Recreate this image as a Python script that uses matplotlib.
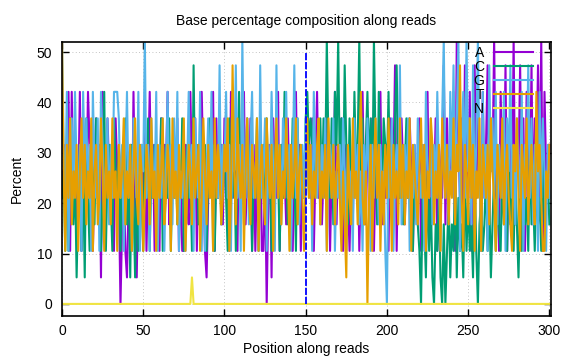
import numpy as np
import matplotlib
matplotlib.use('Agg')
import matplotlib.pyplot as plt

plt.rcParams['font.family'] = ['Liberation Sans', 'DejaVu Sans']

# percentages come in steps of 100/19, stored here as step counts
STEP = 100 / 19

base_A = [5,4,6,4,8,2,8,4,5,3, 4,8,2,7,5,4,8,6,4,2, 5,7,4,6,1,8,5,4,7,5,
          4,6,2,7,5,4,0,3,5,2, 1,4,6,2,8,4,1,5,3,6, 4,7,2,5,8,4,6,2,4,5,
          2,7,4,6,5,8,3,4,6,5, 4,7,2,5,2,2,6,4,3,8, 5,4,7,2,6,4,8,5,2,1,
          4,6,5,8,2,7,4,5,6,3, 7,4,5,2,8,6,4,5,2,7, 4,6,8,3,5,4,7,2,6,2,
          5,4,7,2,2,5,0,4,6,1, 7,5,4,8,2,6,4,5,3,7, 4,6,2,5,8,4,6,2,5,4,
          6,6,6,4,7,2,5,8,4,6, 3,5,4,7,6,2,5,4,8,3, 6,4,7,2,5,6,4,2,5,3,
          7,4,6,2,5,8,4,3,6,5, 4,7,2,5,6,4,8,3,5,4, 6,2,7,4,5,9,2,6,4,7,
          5,3,6,4,7,5,2,6,4,5, 7,2,5,6,4,8,3,6,5,4, 7,2,6,5,4,9,3,7,4,6,
          5,8,2,10,6,4,7,3,9,5, 4,8,2,6,9,4,7,5,2,8, 4,6,9,3,7,5,10,4,6,2,
          8,5,4,9,2,6,7,4,10,3, 6,5,9,4,7,2,8,5,4,9, 3,7,5,9,4,10,2,8,5,4,
          6]
base_C = [4,5,2,6,2,7,4,3,5,1, 4,6,2,5,1,7,4,2,6,5, 3,7,4,5,2,4,8,2,5,6,
          4,2,7,5,4,6,2,5,4,7, 3,5,1,6,4,1,5,2,6,4, 2,6,4,7,2,5,4,6,3,5,
          4,7,2,5,6,4,7,2,5,4, 6,3,5,4,7,2,5,6,4,5, 2,9,4,6,3,7,5,4,6,2,
          5,7,4,6,2,5,4,7,3,5, 6,4,2,7,5,4,6,2,5,8, 4,6,3,5,7,4,6,2,5,4,
          7,2,5,4,6,3,7,4,5,2, 6,4,7,5,2,6,4,8,5,3, 6,4,7,5,2,7,4,6,5,4,
          7,8,6,7,6,7,4,6,5,7, 4,7,5,10,6,4,7,3,8,6, 10,5,7,4,9,6,3,7,5,4,
          8,5,6,10,4,7,3,6,8,5, 7,4,10,6,3,8,5,4,7,6, 5,8,4,6,3,7,9,5,4,6,
          3,5,7,4,6,3,2,5,4,3, 2,0,4,3,1,5,2,4,1,0, 3,2,4,1,0,3,0,2,4,1,
          3,2,5,1,4,2,3,1,5,2, 4,2,3,1,5,2,0,3,4,2, 3,5,2,4,1,3,5,2,4,3,
          2,5,3,4,2,6,3,4,2,5, 3,1,4,2,5,3,4,2,6,3, 4,2,5,3,4,2,6,3,4,5,
          3]
base_G = [10,6,4,8,2,5,7,4,8,5, 4,6,2,8,5,7,4,6,2,8, 5,4,7,2,8,6,4,5,7,3,
          6,4,8,8,8,7,4,6,2,5, 8,4,6,2,7,5,4,8,2,6, 5,10,4,6,2,7,5,4,8,2,
          6,4,7,2,5,8,4,6,3,7, 4,8,2,5,4,6,2,5,8,4, 6,2,7,5,4,8,2,6,2,5,
          7,4,8,2,6,5,4,9,3,6, 5,8,4,6,2,7,5,9,4,6, 2,10,5,4,7,3,6,8,4,5,
          6,2,9,4,5,7,2,6,4,8, 5,2,9,4,6,3,7,5,8,4, 6,2,5,9,4,7,3,5,6,4,
          7,5,4,6,2,8,5,4,7,3, 6,4,7,2,5,6,4,7,2,5, 4,6,3,7,5,2,6,4,5,2,
          7,4,6,3,5,2,6,4,7,5, 2,6,4,7,5,3,6,4,5,2, 0,6,4,7,2,5,6,4,9,3,
          5,6,4,7,2,5,4,6,3,7, 5,4,6,2,8,5,4,7,3,6, 4,8,5,2,7,10,4,6,3,8,
          5,9,4,7,10,2,6,8,4,10, 5,7,3,9,4,6,10,5,2,8, 4,6,2,9,5,7,4,8,3,6,
          5,4,8,2,7,5,9,4,6,3, 7,5,4,8,2,6,5,9,4,7, 3,6,5,2,8,4,7,5,2,6,
          4]
base_T = [10,5,2,6,4,7,3,5,4,6, 2,5,7,4,6,3,5,4,7,2, 5,6,3,4,7,5,2,6,4,5,
          3,7,4,5,2,6,4,5,7,3, 5,4,6,2,5,7,4,3,6,5, 2,4,6,5,3,7,4,5,2,6,
          4,5,7,3,4,6,5,2,7,4, 5,3,6,4,5,7,2,4,6,5, 3,7,4,5,6,2,4,7,5,3,
          6,4,5,2,7,4,6,5,3,4, 6,5,7,2,4,9,5,3,7,5, 4,6,2,5,7,4,3,6,5,4,
          7,2,5,6,4,3,7,5,4,6, 2,5,7,4,6,3,5,4,7,5, 2,6,4,5,7,3,5,6,4,2,
          5,7,4,6,3,5,4,6,7,3, 5,4,6,2,7,5,4,6,3,5, 6,4,2,5,3,1,6,4,3,7,
          4,5,3,6,8,4,3,5,0,4, 6,2,5,7,4,6,2,5,3,6, 4,7,5,2,6,4,5,3,7,4,
          6,3,5,4,7,2,6,5,4,3, 5,7,4,6,2,5,4,7,6,3, 5,4,6,2,7,5,4,6,3,5,
          4,7,3,6,5,9,4,2,6,5, 3,7,4,6,2,5,4,7,2,6, 5,4,6,3,7,5,4,2,6,5,
          4,7,3,5,6,4,3,2,6,5, 7,4,2,6,5,4,7,3,5,6, 4,3,8,5,6,4,2,2,5,4,
          6]
n_spike_pos = 80
n_spike_steps = 1

split_pos = 150
split_top = 50

pos = np.arange(len(base_A))
base_N = np.zeros(len(pos))
base_N[n_spike_pos] = n_spike_steps

series = [('A', base_A, '#9400d3'),
          ('C', base_C, '#009e73'),
          ('G', base_G, '#56b4e9'),
          ('T', base_T, '#e69f00'),
          ('N', base_N, '#f0e442')]

fig = plt.figure(figsize=(5.76, 3.6), dpi=100)
ax = fig.add_axes([62/576, 44/360, 489/576, 274/360])

for name, steps, col in series:
    ax.plot(pos, np.array(steps) * STEP, color=col, lw=1.5, label=name)
ax.plot([split_pos, split_pos], [0, split_top], color='#0000ff', lw=1.3, ls=(0, (4, 1)))

ax.set_xlim(0, 301)
ax.set_ylim(-2.4, 52)
ax.set_xticks(range(0, 301, 50))
ax.set_yticks(range(0, 51, 10))
ax.tick_params(direction='in', length=5, top=True, right=True, labelsize=10, width=1)
ax.tick_params(axis='x', pad=6)
ax.tick_params(axis='y', pad=7)
ax.grid(True, color='#b0b0b0', ls=(0, (1, 3)), lw=0.6)
ax.set_axisbelow(True)
for s in ax.spines.values():
    s.set_linewidth(1.2)

ax.set_title('Base percentage composition along reads', fontsize=10, pad=12)
ax.set_xlabel('Position along reads', fontsize=10, labelpad=3)
ax.set_ylabel('Percent', fontsize=10, labelpad=9)

ax.legend(loc='upper right', bbox_to_anchor=(0.963, 0.985), frameon=False,
          markerfirst=False, handlelength=2.8, handletextpad=0.7,
          labelspacing=0.0, borderpad=0, borderaxespad=0, fontsize=10)

fig.savefig('out.png', dpi=100)
